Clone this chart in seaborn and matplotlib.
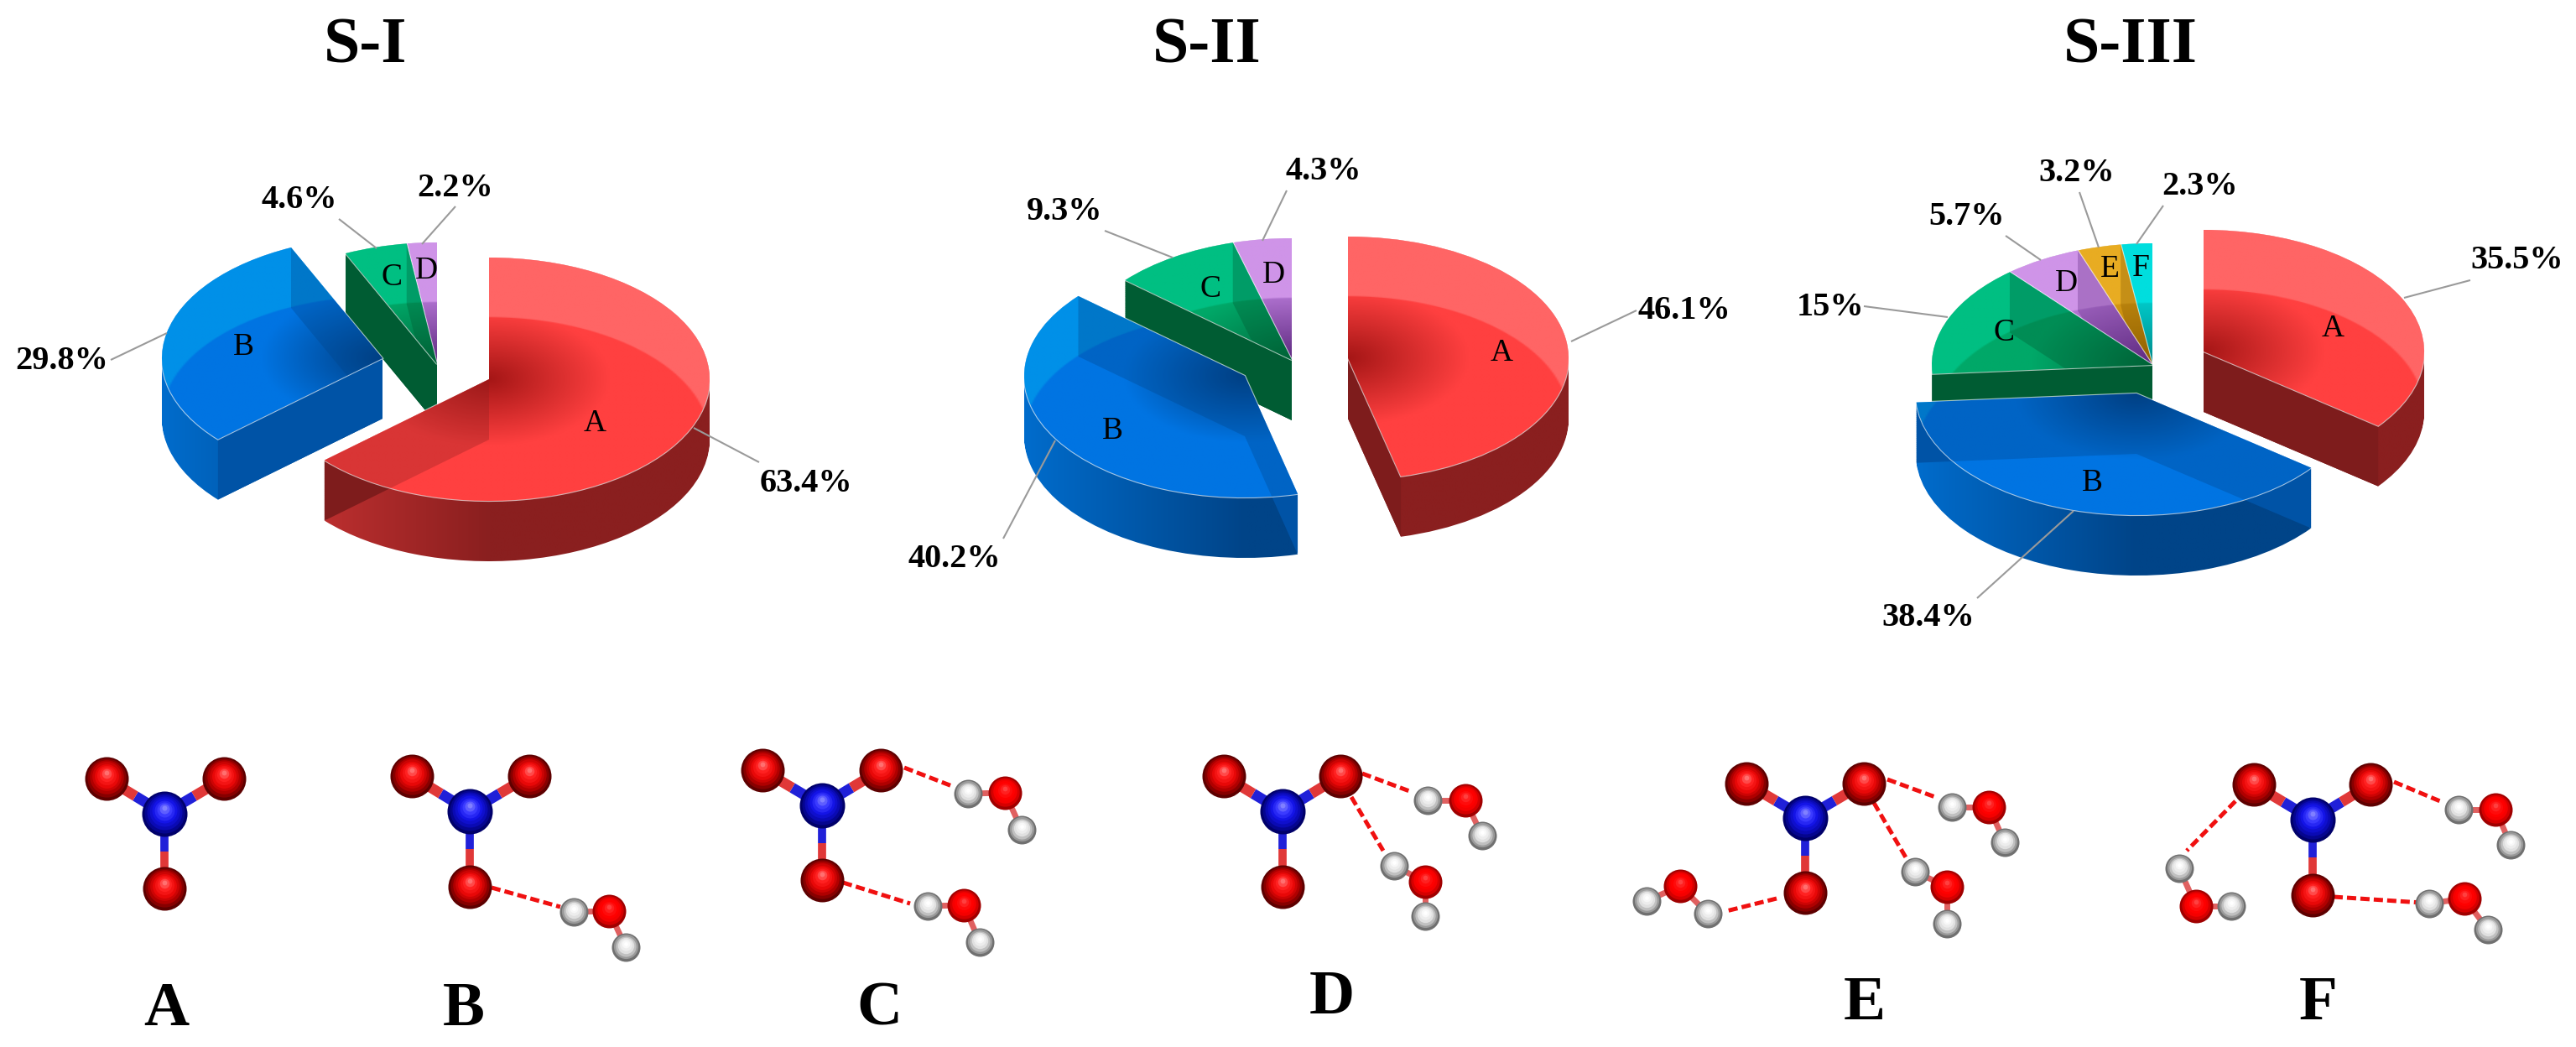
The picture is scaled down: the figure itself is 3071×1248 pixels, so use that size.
import numpy as np
import matplotlib
matplotlib.use("Agg")
import matplotlib.pyplot as plt
import seaborn as sns
from matplotlib.patches import Polygon
from matplotlib.path import Path

W, H = 3071, 1248

# pie data
titles = ["S-I", "S-II", "S-III"]
title_x = [436, 1439, 2540]
s1_values = [63.4, 29.8, 4.6, 2.2]
s2_values = [46.1, 40.2, 9.3, 4.3]
s3_values = [35.5, 38.4, 15, 5.7, 3.2, 2.3]
s1_text = ["63.4%", "29.8%", "4.6%", "2.2%"]
s2_text = ["46.1%", "40.2%", "9.3%", "4.3%"]
s3_text = ["35.5%", "38.4%", "15%", "5.7%", "3.2%", "2.3%"]
slice_names = ["A", "B", "C", "D", "E", "F"]

# where each pulled out slice sits (pixels)
s1_apex = [(583, 452), (456, 427), (521, 434), (521, 434)]
s2_apex = [(1607, 427), (1484, 448), (1540, 429), (1540, 429)]
s3_apex = [(2627, 419), (2547, 469), (2566, 435), (2566, 435), (2566, 435), (2566, 435)]

# text and leader positions (pixels)
s1_text_xy = [(961, 576), (74, 431), (357, 239), (543, 224)]
s2_text_xy = [(2008, 370), (1138, 666), (1269, 253), (1578, 205)]
s3_text_xy = [(3001, 311), (2299, 737), (2182, 366), (2345, 258), (2476, 206), (2623, 223)]
s1_lead = [(905, 551, 827, 510), (132, 429, 199, 397), (404, 261, 449, 296), (543, 246, 503, 291)]
s2_lead = [(1951, 370, 1873, 407), (1196, 642, 1258, 525), (1317, 275, 1398, 307), (1534, 227, 1505, 287)]
s3_lead = [(2945, 334, 2866, 355), (2357, 713, 2472, 609), (2222, 365, 2322, 378),
           (2391, 281, 2433, 310), (2479, 229, 2502, 295), (2579, 245, 2547, 291)]
s1_name_xy = [(709, 505), (290, 414), (467, 331), (508, 323)]
s2_name_xy = [(1790, 421), (1326, 514), (1443, 345), (1518, 328)]
s3_name_xy = [(2781, 392), (2494, 576), (2389, 397), (2463, 338), (2515, 321), (2552, 320)]

# slice colours: apex, bright, light band, side left, side right, cut wall
top_dark = ["#A51616", "#003E82", "#006A3C", "#5E2A80", "#9A6600", "#008A8A"]
top_mid = ["#FF4040", "#0074E2", "#00A868", "#B274D2", "#D89A14", "#00CCCC"]
top_light = ["#FF6565", "#0090E8", "#00BF82", "#CF94E8", "#E8AC22", "#00DEDE"]
side_left = ["#CC3434", "#006CCC", "#2D7055", "#8A4CA8", "#B07C08", "#00A0A0"]
side_right = ["#8A1F1F", "#004488", "#00552E", "#5E2A80", "#7C5400", "#006A6A"]
wall_col = ["#7E1C1C", "#0053A6", "#005C33", "#6B3A8C", "#8A5E00", "#007070"]

# molecules (pixels)
nitro_n = [(196, 970), (560, 967), (980, 960), (1529, 967), (2152, 975), (2757, 977)]
nitro_o = [[(127, 928), (267, 928), (196, 1059)],
           [(491, 925), (631, 925), (560, 1057)],
           [(909, 918), (1050, 918), (980, 1049)],
           [(1459, 925), (1598, 925), (1529, 1057)],
           [(2082, 934), (2222, 934), (2152, 1064)],
           [(2687, 935), (2826, 935), (2757, 1067)]]
# hydrogen, oxygen, hydrogen
waters = [[(684, 1087), (726, 1086), (746, 1129)],
          [(1154, 946), (1198, 945), (1218, 989)],
          [(1106, 1080), (1149, 1079), (1168, 1123)],
          [(1702, 954), (1747, 954), (1767, 996)],
          [(1662, 1032), (1699, 1051), (1699, 1092)],
          [(2327, 962), (2371, 962), (2390, 1004)],
          [(2283, 1039), (2321, 1057), (2321, 1101)],
          [(2036, 1089), (2003, 1056), (1963, 1074)],
          [(2931, 965), (2975, 965), (2993, 1007)],
          [(2896, 1077), (2938, 1071), (2966, 1108)],
          [(2598, 1035), (2618, 1080), (2660, 1080)]]
hbonds = [(586, 1058, 668, 1081), (1078, 915, 1135, 937), (1005, 1052, 1085, 1077),
          (1624, 922, 1683, 944), (1611, 950, 1649, 1014), (2250, 929, 2307, 950),
          (2234, 957, 2272, 1022), (2118, 1071, 2058, 1086), (2854, 932, 2909, 955),
          (2782, 1069, 2887, 1076), (2665, 955, 2607, 1014)]
mol_names = ["A", "B", "C", "D", "E", "F"]
mol_name_xy = [(198, 1204), (553, 1204), (1048, 1204), (1588, 1190), (2223, 1197), (2764, 1197)]

RX, RY, DEPTH = 263, 145, 72
K = RX / RY


def to_y(py):
    return (H - py) * K


def ramp_image(wedge_center, idx):
    cx, cy = wedge_center
    xs = np.arange(cx - RX - 4, cx + RX + 4, 2.0)
    ys = np.arange(cy - RX - 4, cy + RX + 4, 2.0)
    gx, gy = np.meshgrid(xs, ys)
    t = np.hypot(gx - cx, gy - cy) / RX
    cmap = sns.blend_palette([top_dark[idx], top_mid[idx], top_mid[idx]], as_cmap=True)
    rgba = cmap(np.clip(t / 1.1, 0, 1))
    # the band above the far rim seen through the glass top
    band = np.hypot(gx - cx, gy - (cy - DEPTH * K)) / RX
    light = np.array(matplotlib.colors.to_rgba(top_light[idx]))
    m = np.clip((band - 1.0) * 120, 0, 1)[..., None]
    rgba = rgba * (1 - m) + light * m
    return rgba, (xs[0], xs[-1], ys[0], ys[-1])


def draw_pie(ax, values, apex, z0):
    wedges, _ = ax.pie(values, radius=RX, startangle=90, counterclock=False, colors=top_mid[:len(values)])
    mids = [np.radians((w.theta1 + w.theta2) / 2) for w in wedges]
    order = np.argsort(-np.sin(mids))
    for rank, i in enumerate(order):
        w = wedges[i]
        z = z0 + rank * 10
        cx, cy = apex[i][0], to_y(apex[i][1])
        w.set_center((cx, cy))
        w.set_edgecolor((1, 1, 1, 0.65))
        w.set_linewidth(1.6)
        w.set_zorder(z + 2)
        d = DEPTH * K

        # side, stack of the top shape pushed down
        p = w.get_path()
        steps = np.linspace(0, d, 30)
        stack = Path.make_compound_path(*[Path(p.vertices - [0, s], p.codes) for s in steps])
        side_cmap = sns.blend_palette([side_left[i], side_right[i], side_right[i]], as_cmap=True)
        grad = np.linspace(0, 1, 256).reshape(1, -1)
        im = ax.imshow(grad, cmap=side_cmap, aspect="auto", zorder=z, interpolation="bilinear",
                       extent=(cx - RX, cx + RX, cy - RX - d, cy + RX))
        im.set_clip_path(stack, ax.transData)

        # cut walls
        for th in (w.theta1, w.theta2):
            ox = cx + RX * np.cos(np.radians(th))
            oy = cy + RX * np.sin(np.radians(th))
            pts = [(cx, cy), (ox, oy), (ox, oy - d), (cx, cy - d)]
            ax.add_patch(Polygon(pts, closed=True, fc=wall_col[i], ec="none", zorder=z + 1))
            glass = Polygon(pts, closed=True, fc=side_right[i], ec="none", alpha=0.32, zorder=z + 4)
            ax.add_patch(glass)
            glass.set_clip_path(w)

        rgba, ext = ramp_image((cx, cy), i)
        top = ax.imshow(rgba, origin="lower", aspect="auto", extent=ext, zorder=z + 3, interpolation="bilinear")
        top.set_clip_path(w)


sns.set_theme(style="white")
plt.rcParams["font.family"] = ["Liberation Serif", "DejaVu Serif"]

fig = plt.figure(figsize=(W / 100, H / 100), dpi=100)
ax_pie = fig.add_axes([0, 0, 1, 1])
ax_pie.set_axis_off()
draw_pie(ax_pie, s1_values, s1_apex, 10)
draw_pie(ax_pie, s2_values, s2_apex, 100)
draw_pie(ax_pie, s3_values, s3_apex, 200)
ax_pie.set_aspect("auto")
ax_pie.set_xlim(0, W)
ax_pie.set_ylim(0, H * K)
ax_pie.set_axis_off()

# everything else in plain pixel coordinates
ax = fig.add_axes([0, 0, 1, 1], zorder=5)
ax.patch.set_alpha(0)
ax.set_axis_off()

for t, x in zip(titles, title_x):
    ax.text(x, 56, t, ha="center", va="center", fontsize=56, fontweight="bold", color="black")

for texts, xy, leads, names_xy in [(s1_text, s1_text_xy, s1_lead, s1_name_xy),
                                   (s2_text, s2_text_xy, s2_lead, s2_name_xy),
                                   (s3_text, s3_text_xy, s3_lead, s3_name_xy)]:
    for i, t in enumerate(texts):
        ax.text(xy[i][0], xy[i][1], t, ha="center", va="center", fontsize=29, fontweight="bold", color="black")
        l = leads[i]
        ax.plot([l[0], l[2]], [l[1], l[3]], color="#9A9A9A", lw=1.5, solid_capstyle="butt")
        ax.text(names_xy[i][0], names_xy[i][1], slice_names[i], ha="center", va="center", fontsize=27, color="black")


def atoms(xs, ys, radius, colors, z):
    # stacked discs give the shaded ball
    n = len(colors)
    for j, c in enumerate(colors):
        f = 1 - j / n
        px = 2 * radius * f * 0.72
        shift = (1 - f) * radius * 0.3
        sns.scatterplot(x=list(xs), y=[v - shift for v in ys], s=px ** 2, color=c,
                        linewidth=0, ax=ax, legend=False, zorder=z + j * 0.01)


o_shade = sns.blend_palette(["#5E0000", "#B00000", "#E80808", "#FF2020", "#FF7070"], 9)
n_shade = sns.blend_palette(["#00006A", "#0A0AB4", "#1414E6", "#3A3AFF", "#8080FF"], 9)
w_shade = sns.blend_palette(["#A00000", "#F00000", "#FF0000", "#FF1010", "#FF4040"], 7)
h_shade = sns.blend_palette(["#707070", "#B0B0B0", "#E0E0E0", "#F4F4F4", "#FFFFFF"], 7)

for n_xy, o_list in zip(nitro_n, nitro_o):
    for o_xy in o_list:
        mx, my = (n_xy[0] + o_xy[0]) / 2, (n_xy[1] + o_xy[1]) / 2
        lw = 7 if n_xy[0] == o_xy[0] else 9
        ax.plot([n_xy[0], mx], [n_xy[1], my], color="#2020D8", lw=lw, solid_capstyle="butt", zorder=3)
        ax.plot([mx, o_xy[0]], [my, o_xy[1]], color="#E03838", lw=lw, solid_capstyle="butt", zorder=3)
all_o = [p for group in nitro_o for p in group]
atoms([p[0] for p in all_o], [p[1] for p in all_o], 26, o_shade, 4)
atoms([p[0] for p in nitro_n], [p[1] for p in nitro_n], 27, n_shade, 4)

for h1, o, h2 in waters:
    ax.plot([h1[0], o[0]], [h1[1], o[1]], color="#E06060", lw=5, zorder=3)
    ax.plot([h2[0], o[0]], [h2[1], o[1]], color="#E06060", lw=5, zorder=3)
all_wo = [w[1] for w in waters]
all_h = [w[0] for w in waters] + [w[2] for w in waters]
atoms([p[0] for p in all_wo], [p[1] for p in all_wo], 20, w_shade, 4)
atoms([p[0] for p in all_h], [p[1] for p in all_h], 17, h_shade, 4)

for b in hbonds:
    ax.plot([b[0], b[2]], [b[1], b[3]], color="#F01010", lw=3.6, ls=(0, (2.2, 1.0)), zorder=3)

for name, xy in zip(mol_names, mol_name_xy):
    ax.text(xy[0], xy[1], name, ha="center", va="center", fontsize=54, fontweight="bold", color="black")

ax.set_xlim(0, W)
ax.set_ylim(H, 0)
ax.set_xlabel("")
ax.set_ylabel("")

fig.savefig("out.png", dpi=100, facecolor="white")
